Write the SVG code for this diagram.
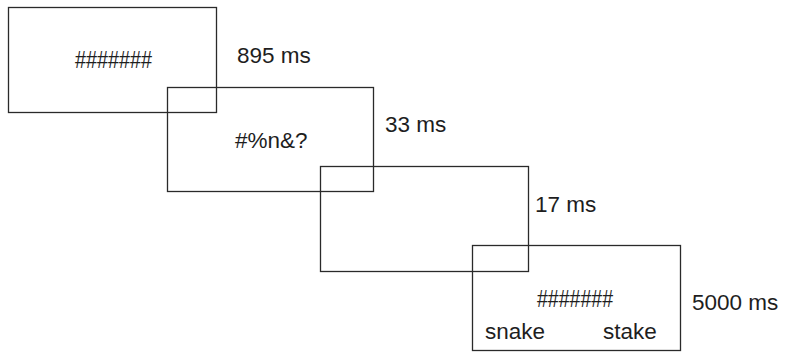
<svg xmlns="http://www.w3.org/2000/svg" width="786" height="353" viewBox="0 0 786 353">
<style>
.box{fill:none;stroke:#2a2a2a;stroke-width:1.3}
text{font-family:"Liberation Sans",Arial,sans-serif;font-size:22.5px;fill:#1e1e1e}
.hash{font-size:24px}
</style>
<rect width="786" height="353" fill="#ffffff"/>
<g id="frame1">
<rect class="box" x="8.5" y="7.5" width="208" height="105"/>
<text class="hash" x="75" y="67.5" textLength="77" lengthAdjust="spacingAndGlyphs">#######</text>
<text x="237" y="63">895 ms</text>
</g>
<g id="frame2">
<rect class="box" x="167.5" y="87.5" width="206" height="104"/>
<text x="235" y="148">#%n&amp;?</text>
<text x="385" y="132">33 ms</text>
</g>
<g id="frame3">
<rect class="box" x="320.5" y="166.5" width="208" height="105"/>
<text x="535" y="212">17 ms</text>
</g>
<g id="frame4">
<rect class="box" x="472.5" y="245.5" width="208" height="105"/>
<text class="hash" x="537" y="306.5" textLength="76" lengthAdjust="spacingAndGlyphs">#######</text>
<text x="485" y="339">snake</text>
<text x="603" y="339">stake</text>
<text x="692" y="310">5000 ms</text>
</g>
<g id="connectors"></g>
</svg>
